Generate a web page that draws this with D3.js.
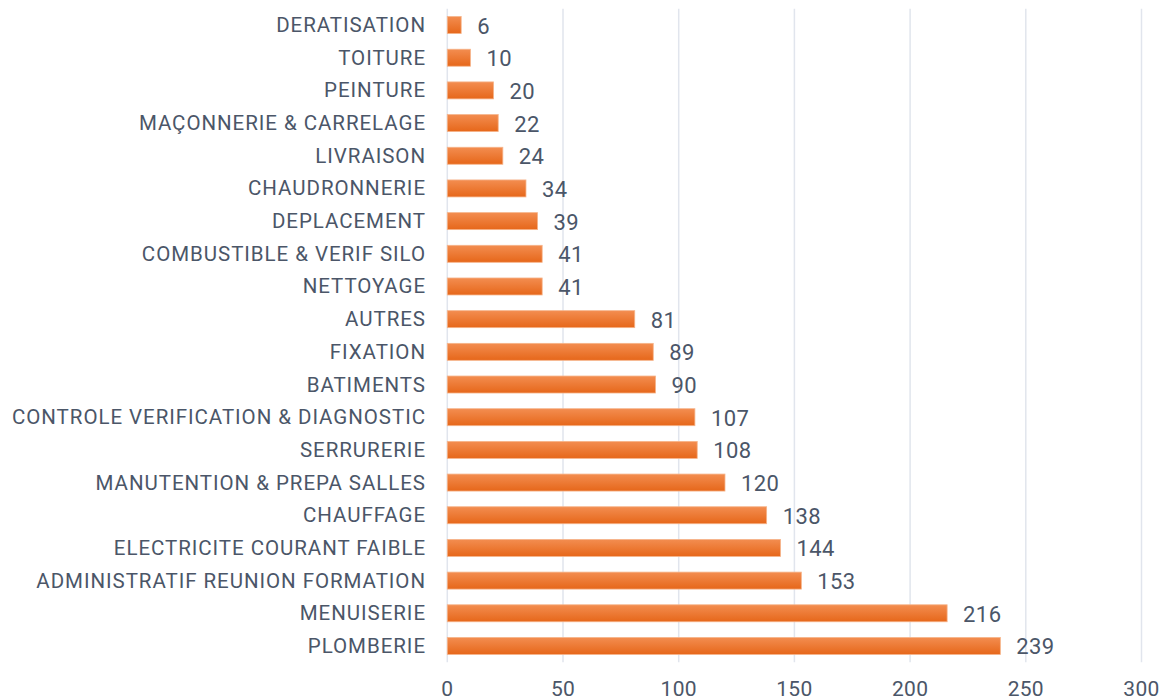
<!DOCTYPE html>
<html><head><meta charset="utf-8">
<script src="https://cdn.jsdelivr.net/npm/d3@7"></script>
<style>body{margin:0;background:#fff;} text{font-family:Roboto,"Noto Sans",sans-serif;}</style>
</head><body><svg id="c" width="1170" height="700"></svg>
<script>
const categories = ["DERATISATION","TOITURE","PEINTURE","MAÇONNERIE & CARRELAGE","LIVRAISON","CHAUDRONNERIE","DEPLACEMENT","COMBUSTIBLE & VERIF SILO","NETTOYAGE","AUTRES","FIXATION","BATIMENTS","CONTROLE VERIFICATION & DIAGNOSTIC","SERRURERIE","MANUTENTION & PREPA SALLES","CHAUFFAGE","ELECTRICITE COURANT FAIBLE","ADMINISTRATIF REUNION FORMATION","MENUISERIE","PLOMBERIE"];
const values = [6,10,20,22,24,34,39,41,41,81,89,90,107,108,120,138,144,153,216,239];
const xTicks = [0,50,100,150,200,250,300];

(function(){
const svg = d3.select("#c");
const pLeft = 447.3, pRight = 1141.5, pTop = 8.7, pBottom = 662.3;
const x = d3.scaleLinear().domain([0,300]).range([pLeft,pRight]);
const y = d3.scaleBand().domain(categories).range([pTop,pBottom]).paddingInner(0.48).paddingOuter(0.24);

const defs = svg.append("defs");
const g = defs.append("linearGradient").attr("id","bg").attr("x1",0).attr("y1",0).attr("x2",0).attr("y2",1);
g.append("stop").attr("offset","0%").attr("stop-color","#f38d50");
g.append("stop").attr("offset","100%").attr("stop-color","#e6671a");

const textColor = "#4b5668";

svg.append("g").selectAll("line").data(xTicks).join("line")
  .attr("x1",d=>x(d)).attr("x2",d=>x(d)).attr("y1",pTop).attr("y2",pBottom)
  .attr("stroke","#e1e5ed").attr("stroke-width",1.5);

svg.append("g").selectAll("text").data(xTicks).join("text")
  .attr("x",d=>x(d)).attr("y",696).attr("text-anchor","middle")
  .attr("fill",textColor).attr("font-size",21).attr("letter-spacing","0.3").text(d=>d);

svg.append("g").selectAll("rect").data(categories).join("rect")
  .attr("x",x(0)).attr("y",d=>y(d)).attr("height",y.bandwidth())
  .attr("width",(d,i)=>x(values[i])-x(0))
  .attr("fill","url(#bg)").attr("stroke","#f6b48a").attr("stroke-width",0.8);

svg.append("g").selectAll("text").data(categories).join("text")
  .attr("x",426).attr("y",d=>y(d)+y.bandwidth()/2).attr("text-anchor","end").attr("dominant-baseline","central")
  .attr("fill",textColor).attr("font-size",20.5).attr("letter-spacing","0.95").text(d=>d);

svg.append("g").selectAll("text").data(categories).join("text")
  .attr("x",(d,i)=>x(values[i])+16).attr("y",d=>y(d)+y.bandwidth()/2+1).attr("dominant-baseline","central")
  .attr("fill",textColor).attr("font-size",22).attr("letter-spacing","0.4").text((d,i)=>values[i]);
})();
</script></body></html>
